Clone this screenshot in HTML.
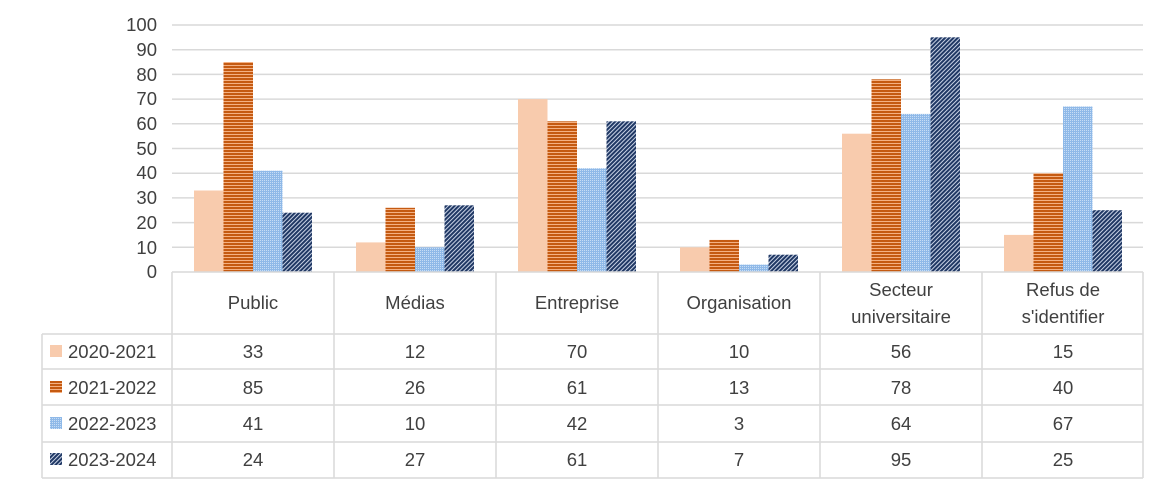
<!DOCTYPE html>
<html><head><meta charset="utf-8"><style>body{margin:0;background:#fff}svg{display:block}</style></head><body>
<svg width="1170" height="488" viewBox="0 0 1170 488" xmlns="http://www.w3.org/2000/svg" font-family="Liberation Sans, sans-serif">
<defs>
<pattern id="ph" width="4" height="3" patternUnits="userSpaceOnUse"><rect width="4" height="3" fill="#C55A11"/><rect y="2" width="4" height="1" fill="#F4B183"/></pattern>
<pattern id="pd" width="2" height="2" patternUnits="userSpaceOnUse"><rect width="2" height="2" fill="#8FB9E8"/><rect width="1" height="1" fill="#C7DDF5"/></pattern>
<pattern id="pn" width="3" height="3" patternUnits="userSpaceOnUse" patternTransform="rotate(45)"><rect width="3" height="3" fill="#203864"/><rect width="1" height="3" fill="#C9D3E6"/></pattern>
</defs>
<g stroke="#D9D9D9" stroke-width="1.5">
<line x1="172" x2="1143" y1="25" y2="25"/><line x1="172" x2="1143" y1="49.7" y2="49.7"/><line x1="172" x2="1143" y1="74.4" y2="74.4"/><line x1="172" x2="1143" y1="99.1" y2="99.1"/><line x1="172" x2="1143" y1="123.8" y2="123.8"/><line x1="172" x2="1143" y1="148.5" y2="148.5"/><line x1="172" x2="1143" y1="173.2" y2="173.2"/><line x1="172" x2="1143" y1="197.9" y2="197.9"/><line x1="172" x2="1143" y1="222.6" y2="222.6"/><line x1="172" x2="1143" y1="247.3" y2="247.3"/>
</g>
<g fill="#404040" font-size="18.5" text-anchor="end">
<text x="157" y="31">100</text><text x="157" y="56">90</text><text x="157" y="81">80</text><text x="157" y="105">70</text><text x="157" y="130">60</text><text x="157" y="155">50</text><text x="157" y="179">40</text><text x="157" y="204">30</text><text x="157" y="229">20</text><text x="157" y="254">10</text><text x="157" y="278">0</text>
</g>
<g>
<rect x="194" y="190.5" width="29.5" height="81.5" fill="#F8CBAD"/><rect x="223.5" y="62" width="29.5" height="210" fill="url(#ph)"/><rect x="253" y="170.7" width="29.5" height="101.3" fill="url(#pd)"/><rect x="282.5" y="212.7" width="29.5" height="59.3" fill="url(#pn)"/>
<rect x="356" y="242.4" width="29.5" height="29.6" fill="#F8CBAD"/><rect x="385.5" y="207.8" width="29.5" height="64.2" fill="url(#ph)"/><rect x="415" y="247.3" width="29.5" height="24.7" fill="url(#pd)"/><rect x="444.5" y="205.3" width="29.5" height="66.7" fill="url(#pn)"/>
<rect x="518" y="99.1" width="29.5" height="172.9" fill="#F8CBAD"/><rect x="547.5" y="121.3" width="29.5" height="150.7" fill="url(#ph)"/><rect x="577" y="168.3" width="29.5" height="103.7" fill="url(#pd)"/><rect x="606.5" y="121.3" width="29.5" height="150.7" fill="url(#pn)"/>
<rect x="680" y="247.3" width="29.5" height="24.7" fill="#F8CBAD"/><rect x="709.5" y="239.9" width="29.5" height="32.1" fill="url(#ph)"/><rect x="739" y="264.6" width="29.5" height="7.4" fill="url(#pd)"/><rect x="768.5" y="254.7" width="29.5" height="17.3" fill="url(#pn)"/>
<rect x="842" y="133.7" width="29.5" height="138.3" fill="#F8CBAD"/><rect x="871.5" y="79.3" width="29.5" height="192.7" fill="url(#ph)"/><rect x="901" y="113.9" width="29.5" height="158.1" fill="url(#pd)"/><rect x="930.5" y="37.3" width="29.5" height="234.7" fill="url(#pn)"/>
<rect x="1004" y="234.9" width="29.5" height="37.1" fill="#F8CBAD"/><rect x="1033.5" y="173.2" width="29.5" height="98.8" fill="url(#ph)"/><rect x="1063" y="106.5" width="29.5" height="165.5" fill="url(#pd)"/><rect x="1092.5" y="210.2" width="29.5" height="61.8" fill="url(#pn)"/>
</g>
<g stroke="#D9D9D9" stroke-width="1.5" fill="none">
<line x1="172" x2="1143" y1="272" y2="272"/>
<line x1="42" x2="1143" y1="334" y2="334"/><line x1="42" x2="1143" y1="369" y2="369"/><line x1="42" x2="1143" y1="405" y2="405"/><line x1="42" x2="1143" y1="442" y2="442"/><line x1="42" x2="1143" y1="478" y2="478"/>
<line x1="42" x2="42" y1="334" y2="478"/>
<line x1="172" x2="172" y1="272" y2="478"/><line x1="334" x2="334" y1="272" y2="478"/><line x1="496" x2="496" y1="272" y2="478"/><line x1="658" x2="658" y1="272" y2="478"/><line x1="820" x2="820" y1="272" y2="478"/><line x1="982" x2="982" y1="272" y2="478"/><line x1="1143" x2="1143" y1="272" y2="478"/>
</g>
<g fill="#404040" font-size="18.5" text-anchor="middle">
<text x="253" y="309">Public</text><text x="415" y="309">Médias</text><text x="577" y="309">Entreprise</text><text x="739" y="309">Organisation</text>
<text x="901" y="296">Secteur</text><text x="901" y="323">universitaire</text>
<text x="1063" y="296">Refus de</text><text x="1063" y="323">s'identifier</text>
<text x="253" y="358">33</text><text x="415" y="358">12</text><text x="577" y="358">70</text><text x="739" y="358">10</text><text x="901" y="358">56</text><text x="1063" y="358">15</text>
<text x="253" y="394">85</text><text x="415" y="394">26</text><text x="577" y="394">61</text><text x="739" y="394">13</text><text x="901" y="394">78</text><text x="1063" y="394">40</text>
<text x="253" y="430">41</text><text x="415" y="430">10</text><text x="577" y="430">42</text><text x="739" y="430">3</text><text x="901" y="430">64</text><text x="1063" y="430">67</text>
<text x="253" y="466">24</text><text x="415" y="466">27</text><text x="577" y="466">61</text><text x="739" y="466">7</text><text x="901" y="466">95</text><text x="1063" y="466">25</text>
</g>
<g>
<rect x="50" y="345" width="12" height="12" fill="#F8CBAD"/><rect x="50" y="381" width="12" height="12" fill="url(#ph)"/><rect x="50" y="417" width="12" height="12" fill="url(#pd)"/><rect x="50" y="453" width="12" height="12" fill="url(#pn)"/>
</g>
<g fill="#404040" font-size="18.5">
<text x="68" y="358">2020-2021</text><text x="68" y="394">2021-2022</text><text x="68" y="430">2022-2023</text><text x="68" y="466">2023-2024</text>
</g>
</svg>
</body></html>
